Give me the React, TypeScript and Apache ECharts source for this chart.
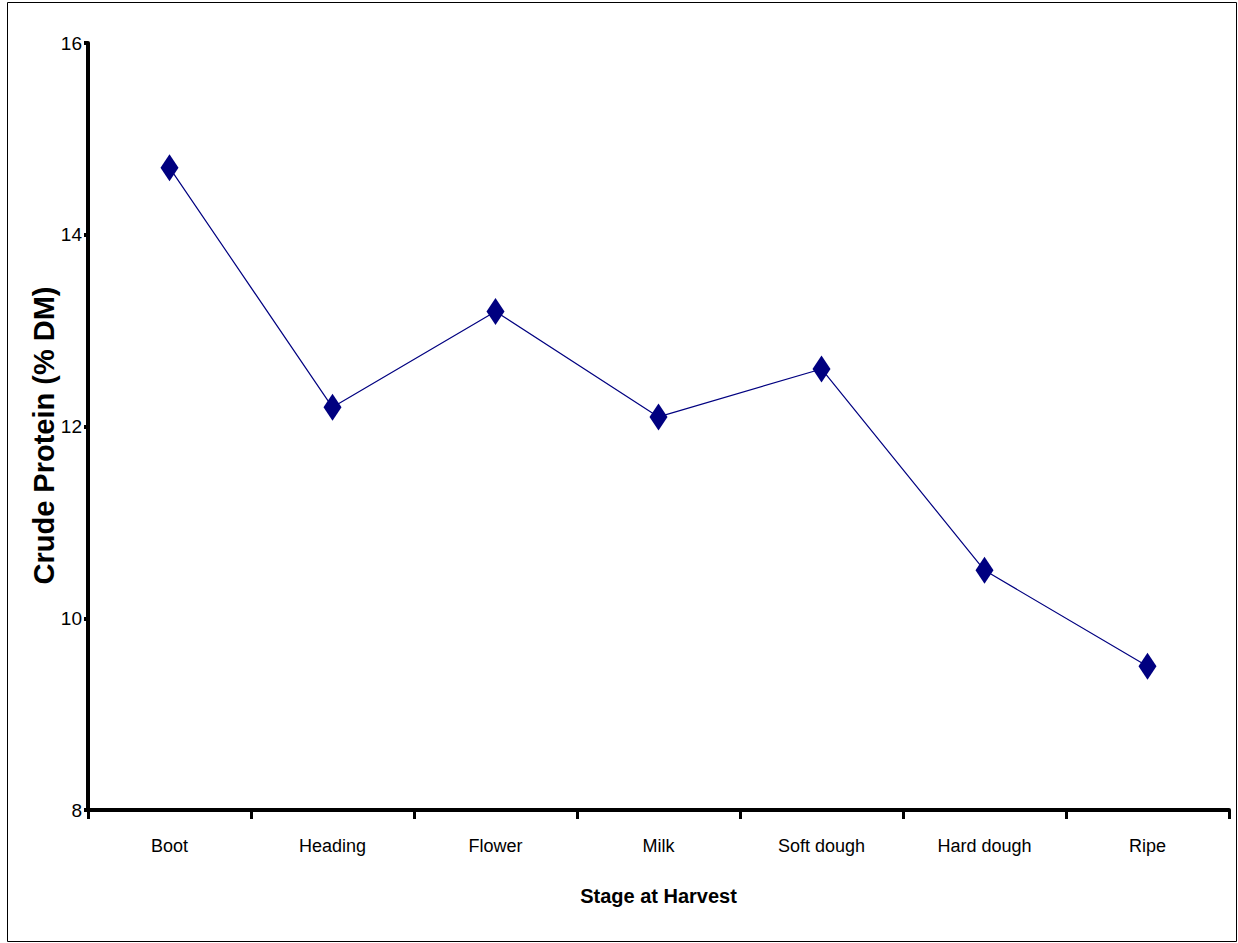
import React, { useEffect, useRef } from "react";
import * as echarts from "echarts";

const categories = ["Boot", "Heading", "Flower", "Milk", "Soft dough", "Hard dough", "Ripe"];
const crudeProtein = [14.7, 12.2, 13.2, 12.1, 12.6, 10.5, 9.5];
const yMin = 8;
const yMax = 16;
const yInterval = 2;

const font = "'Liberation Sans', Arial, Helvetica, sans-serif";

export default function App() {
  const ref = useRef<HTMLDivElement>(null);
  useEffect(() => {
    if (!ref.current) return;
    const chart = echarts.init(ref.current, null, { renderer: "svg" });
    chart.setOption({
      animation: false,
      backgroundColor: "#ffffff",
      textStyle: { fontFamily: font },
      graphic: [
        {
          type: "rect",
          shape: { x: 7.5, y: 2.5, width: 1229, height: 939 },
          style: { fill: "none", stroke: "#000", lineWidth: 1 },
          silent: true,
        },
      ],
      grid: { left: 88, top: 43, right: 9, bottom: 133, containLabel: false },
      xAxis: {
        type: "category",
        data: categories,
        boundaryGap: true,
        name: "Stage at Harvest",
        nameLocation: "middle",
        nameGap: 76,
        nameMoveOverlap: false,
        nameTextStyle: { fontSize: 20, fontWeight: "bold", color: "#000", fontFamily: font },
        axisLine: { lineStyle: { color: "#000", width: 4 } },
        axisTick: { show: true, length: 9, alignWithLabel: false, lineStyle: { color: "#000", width: 3 } },
        axisLabel: { color: "#000", fontSize: 18, margin: 27, interval: 0, fontFamily: font },
        splitLine: { show: false },
      },
      yAxis: {
        type: "value",
        min: yMin,
        max: yMax,
        interval: yInterval,
        name: "Crude Protein (% DM)",
        nameLocation: "middle",
        nameGap: 30,
        nameMoveOverlap: false,
        nameRotate: 90,
        nameTextStyle: { fontSize: 29, fontWeight: "bold", color: "#000", fontFamily: font, padding: [0, 18, 0, 0] },
        axisLine: { show: true, lineStyle: { color: "#000", width: 4 } },
        axisTick: { show: true, length: 4, lineStyle: { color: "#000", width: 4 } },
        axisLabel: { color: "#000", fontSize: 19, margin: 6, fontFamily: font },
        splitLine: { show: false },
      },
      series: [
        {
          type: "line",
          data: crudeProtein,
          symbol: "diamond",
          symbolSize: [18, 27],
          lineStyle: { color: "#000080", width: 1.2 },
          itemStyle: { color: "#000080" },
        },
      ],
    });
    return () => chart.dispose();
  }, []);
  return (
    <div
      ref={ref}
      style={{ position: "fixed", left: 0, top: 0, width: 1238, height: 943 }}
    />
  );
}
